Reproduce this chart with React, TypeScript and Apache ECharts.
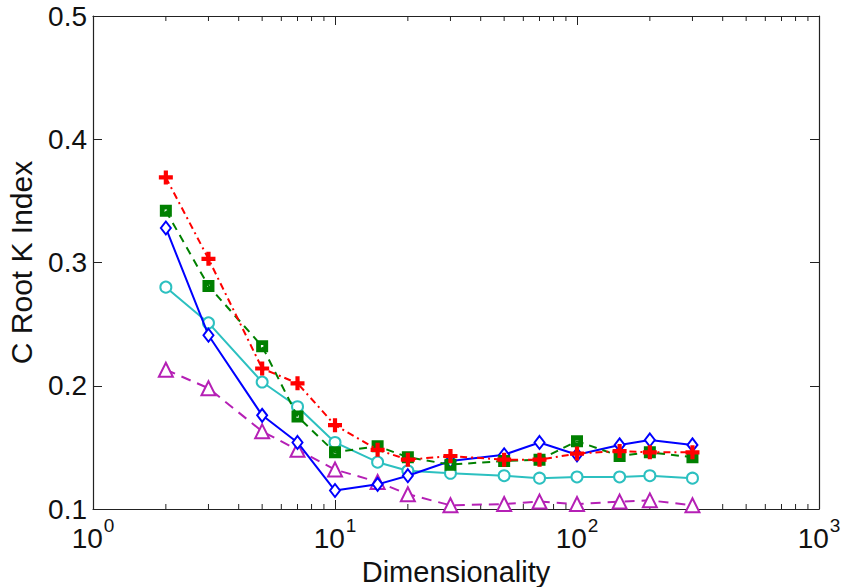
import React, { useEffect, useRef } from "react";
import * as echarts from "echarts";

// Dimensionality values (log-scaled x axis)
const dims = [2, 3, 5, 7, 10, 15, 20, 30, 50, 70, 100, 150, 200, 300];

// C Root K Index per method
const redPlus = [0.369, 0.303, 0.214, 0.202, 0.168, 0.148, 0.140, 0.143, 0.140, 0.140, 0.145, 0.147, 0.146, 0.146];
const greenSquare = [0.342, 0.281, 0.232, 0.175, 0.146, 0.151, 0.142, 0.136, 0.139, 0.140, 0.155, 0.143, 0.146, 0.142];
const blueDiamond = [0.328, 0.241, 0.176, 0.154, 0.115, 0.120, 0.127, 0.139, 0.144, 0.154, 0.144, 0.152, 0.156, 0.152];
const cyanCircle = [0.280, 0.251, 0.203, 0.183, 0.154, 0.138, 0.131, 0.129, 0.127, 0.125, 0.126, 0.126, 0.127, 0.125];
const magentaTriangle = [0.213, 0.198, 0.163, 0.148, 0.132, 0.122, 0.112, 0.103, 0.104, 0.106, 0.104, 0.106, 0.107, 0.103];

// Minor tick positions on the log axis
const minorTicks = [2, 3, 4, 5, 6, 7, 8, 9, 20, 30, 40, 50, 60, 70, 80, 90, 200, 300, 400, 500, 600, 700, 800, 900];

const FONT = "'Liberation Sans', Arial, Helvetica, sans-serif";
const AXIS_COLOR = "#222";
const PLUS = "path://M7,0H13V7H20V13H13V20H7V13H0V7H7Z";
// square outline with a small hole in the middle
const SQUARE = "path://M0,0H20V20H0Z M8,8V12H12V8Z";

function lineSeries(
  name: string,
  values: number[],
  color: string,
  dash: any,
  symbol: string,
  symbolSize: any,
  borderWidth: number,
  z: number
) {
  return {
    type: "line",
    name,
    data: dims.map((d, i) => [d, values[i]]),
    symbol,
    symbolSize,
    showAllSymbol: true,
    lineStyle: { color, width: 2, type: dash },
    itemStyle: { color, borderColor: color, borderWidth },
    emphasis: { disabled: true },
    z,
  };
}

export default function App() {
  const ref = useRef<HTMLDivElement>(null);

  useEffect(() => {
    if (!ref.current) return;
    document.body.style.margin = "0";
    const chart = echarts.init(ref.current, null, { renderer: "svg" });
    const tickStyle = { show: true, inside: true, length: 9, lineStyle: { color: AXIS_COLOR, width: 1 } };
    const axisLine = { show: true, lineStyle: { color: AXIS_COLOR, width: 1.2 } };

    chart.setOption({
      animation: false,
      backgroundColor: "#fff",
      grid: { left: 93, right: 23, top: 16, bottom: 78, outerBoundsMode: "none", containLabel: false },
      xAxis: [
        {
          type: "log",
          logBase: 10,
          min: 1,
          max: 1000,
          position: "bottom",
          axisLine,
          axisTick: tickStyle,
          splitLine: { show: false },
          name: "Dimensionality",
          nameLocation: "middle",
          nameGap: 48,
          nameTextStyle: { fontFamily: FONT, fontSize: 29, color: "#111" },
          axisLabel: {
            margin: 7,
            hideOverlap: false,
            showMinLabel: true,
            showMaxLabel: true,
            formatter: (v: number) => `{b|10}{s|${Math.round(Math.log10(v))}}`,
            rich: {
              b: { fontFamily: FONT, fontSize: 28, color: "#111", lineHeight: 36, verticalAlign: "bottom" },
              s: { fontFamily: FONT, fontSize: 19, color: "#111", lineHeight: 20, verticalAlign: "top", padding: [0, 0, 0, 1] },
            },
          },
        },
        {
          type: "log",
          logBase: 10,
          min: 1,
          max: 1000,
          position: "top",
          axisLine,
          axisTick: tickStyle,
          axisLabel: { show: false },
          splitLine: { show: false },
        },
      ],
      yAxis: [
        {
          type: "value",
          min: 0.1,
          max: 0.5,
          interval: 0.1,
          position: "left",
          axisLine,
          axisTick: tickStyle,
          splitLine: { show: false },
          name: "C Root K Index",
          nameLocation: "middle",
          nameGap: 57,
          nameTextStyle: { fontFamily: FONT, fontSize: 30, color: "#111" },
          axisLabel: {
            margin: 6,
            fontFamily: FONT,
            fontSize: 28,
            color: "#111",
            formatter: (v: number) => v.toFixed(1),
          },
        },
        {
          type: "value",
          min: 0.1,
          max: 0.5,
          interval: 0.1,
          position: "right",
          axisLine,
          axisTick: tickStyle,
          axisLabel: { show: false },
          splitLine: { show: false },
        },
      ],
      series: [
        {
          type: "custom",
          name: "minor ticks",
          silent: true,
          xAxisIndex: 0,
          yAxisIndex: 0,
          data: minorTicks.map((v) => [v, 0.1]),
          encode: { x: 0, y: 1 },
          z: 1,
          renderItem: (_params: any, api: any) => {
            const v = api.value(0);
            const b = api.coord([v, 0.1]);
            const t = api.coord([v, 0.5]);
            const style = { stroke: AXIS_COLOR, lineWidth: 1 };
            return {
              type: "group",
              children: [
                { type: "line", shape: { x1: b[0], y1: b[1], x2: b[0], y2: b[1] - 5 }, style },
                { type: "line", shape: { x1: t[0], y1: t[1], x2: t[0], y2: t[1] + 5 }, style },
              ],
            };
          },
        },
        lineSeries("magenta", magentaTriangle, "#b520b5", [10, 7], "emptyTriangle", 14, 2.2, 3),
        lineSeries("cyan", cyanCircle, "#2cc0c0", "solid", "emptyCircle", 11, 2.2, 4),
        lineSeries("blue", blueDiamond, "#0000ff", "solid", "emptyDiamond", [10, 13], 2, 5),
        lineSeries("green", greenSquare, "#008000", [8, 6], SQUARE, 12, 0, 6),
        lineSeries("red", redPlus, "#ff0000", [7, 4, 2, 4], PLUS, 14, 0, 7),
      ],
    });

    return () => chart.dispose();
  }, []);

  return <div ref={ref} style={{ width: 842, height: 587 }} />;
}
